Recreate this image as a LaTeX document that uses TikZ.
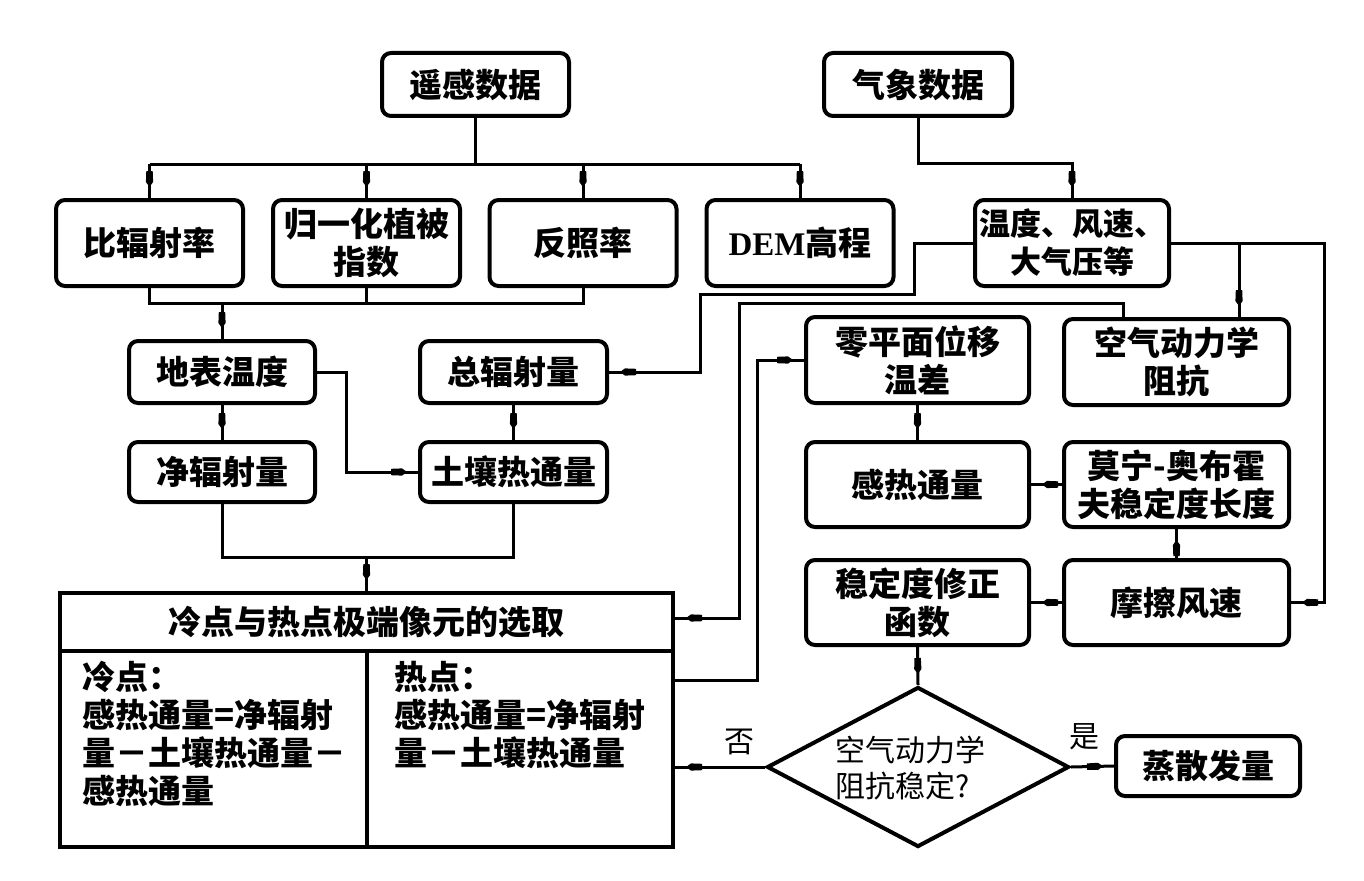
\documentclass[tikz,border=0pt]{standalone}
\usepackage{fontspec}
\setmainfont{Noto Sans CJK SC}
\newfontfamily\demf{Liberation Serif}
\usetikzlibrary{arrows.meta,decorations.markings,shapes.geometric,calc}
\newcommand\myfs{\fontsize{33pt}{38pt}\selectfont\bfseries}
\newcommand\wxfs{\fontsize{31pt}{38pt}\selectfont\bfseries}
\newcommand\lblfs{\fontsize{30pt}{36pt}\selectfont}
\begin{document}
\begin{tikzpicture}[x=1pt,y=-1pt,
  box/.style={draw, line width=4pt, rounded corners=9pt, inner sep=0pt, align=center, font=\myfs},
  conn/.style={line width=3pt},
  arr/.style={conn, postaction={decorate}, decoration={markings, mark=at position -11pt with {\fill (-16pt,-3.2pt) -- (-5pt,-3.6pt) -- (0pt,0pt) -- (-5pt,3.6pt) -- (-16pt,3.2pt) -- cycle;}}},
  lbl/.style={inner sep=0pt, font=\myfs},
  yn/.style={inner sep=0pt, font=\lblfs}
]
\useasboundingbox (0,0) rectangle (1364,880);
% row 1
\node[box, minimum width=187pt, minimum height=63pt] (rs) at (475.5,84.5) {遥感数据};
\node[box, minimum width=188pt, minimum height=63pt] (met) at (918,84.5) {气象数据};
% row 2
\node[box, minimum width=187pt, minimum height=86pt] (bfs) at (149.5,243) {比辐射率};
\node[box, minimum width=187pt, minimum height=86pt] (ndvi) at (366.5,243) {归一化植被\\指数};
\node[box, minimum width=187pt, minimum height=86pt] (alb) at (583,243) {反照率};
\node[box, minimum width=187pt, minimum height=86pt] (dem) at (800,243) {{\demf\bfseries DEM}高程};
\node[box, minimum width=194pt, minimum height=86pt, font=\wxfs] (wx) at (1072,243) {温度、风速、\\大气压等};
% row 3/4 left
\node[box, minimum width=186pt, minimum height=62pt] (lst) at (222,372) {地表温度};
\node[box, minimum width=186pt, minimum height=60pt] (rn) at (222,472) {净辐射量};
\node[box, minimum width=187pt, minimum height=62pt] (tot) at (513.5,372) {总辐射量};
\node[box, minimum width=187pt, minimum height=60pt] (g) at (513.5,472) {土壤热通量};
% right column
\node[box, minimum width=223pt, minimum height=86pt] (zpd) at (917.5,360) {零平面位移\\温差};
\node[box, minimum width=225pt, minimum height=86pt] (ra) at (1176.5,362) {空气动力学\\阻抗};
\node[box, minimum width=223pt, minimum height=85pt] (H) at (917.5,484.5) {感热通量};
\node[box, minimum width=225pt, minimum height=85pt] (L) at (1176.5,484.5) {莫宁-奥布霍\\夫稳定度长度};
\node[box, minimum width=223pt, minimum height=85pt] (psi) at (917.5,602.5) {稳定度修正\\函数};
\node[box, minimum width=225pt, minimum height=85pt] (ustar) at (1176.5,602.5) {摩擦风速};
\node[draw, diamond, line width=4pt, inner sep=0pt, minimum width=302pt, minimum height=160pt] (dia) at (918,767) {};
\node[inner sep=0pt, align=left, font=\lblfs] (diat) at (910,768) {空气动力学\\阻抗稳定?};
\node[box, minimum width=184pt, minimum height=60pt] (et) at (1208,766) {蒸散发量};
% big box
\node[draw, line width=4pt, inner sep=0pt, minimum width=613pt, minimum height=254pt] (big) at (366.5,720) {};
\coordinate (t1) at (0,651);
\draw[line width=4pt] (big.west |- t1) -- (big.east |- t1);
\draw[line width=4pt] (big.south |- t1) -- (big.south);
\node[lbl] (title) at (366.5,622) {冷点与热点极端像元的选取};
\node[lbl, anchor=north west, align=left] (cold) at (82,661) {冷点：\\感热通量=净辐射\\量－土壤热通量－\\感热通量};
\node[lbl, anchor=north west, align=left] (hot) at (394,661) {热点：\\感热通量=净辐射\\量－土壤热通量};
% labels
\node[yn] (no) at (739,742) {否};
\node[yn] (yes) at (1084,737) {是};
% connectors
\coordinate (bus) at (0,164);
\draw[conn] (rs.south) -- (rs.south |- bus);
\draw[conn] (bfs.north |- bus) -- (dem.north |- bus);
\foreach \n in {bfs,ndvi,alb,dem} \draw[arr] (\n.north |- bus) -- (\n.north);
\coordinate (mb) at (0,163);
\draw[arr] (met.south) |- (wx.north |- mb) -- (wx.north);
\coordinate (b2) at (0,303);
\draw[conn] (bfs.south) -- (bfs.south |- b2) -- (alb.south |- b2) -- (alb.south);
\draw[conn] (ndvi.south) -- (ndvi.south |- b2);
\draw[arr] (lst.north |- b2) -- (lst.north);
\draw[arr] (lst.south) -- (rn.north);
\coordinate (c1) at (346,472);
\draw[arr] (lst.east) -| (c1) -- (g.west);
\draw[arr] (tot.south) -- (g.north);
\coordinate (k1) at (914,294);
\coordinate (k2) at (700,372);
\draw[arr] (wx.west) -| (k1) -| (k2) -- (tot.east);
\coordinate (k3) at (1324,602.5);
\draw[arr] (wx.east) -| (k3) -- (ustar.east);
\coordinate (br) at (1239,243);
\draw[arr] (br) -- (br |- ra.north);
\coordinate (k5) at (1123,303);
\coordinate (k6) at (739,618);
\draw[arr] (k5 |- ra.north) -- (k5) -| (k6) -- (k6 -| big.east);
\coordinate (k7) at (757,680);
\draw[arr] (k7 -| big.east) -- (k7) |- (zpd.west);
\draw[arr] (zpd.south) -- (H.north);
\draw[arr] (L.west) -- (H.east);
\draw[arr] (ustar.north) -- (L.south);
\draw[arr] (ustar.west) -- (psi.east);
\draw[arr] (psi.south) -- (dia.north);
\draw[arr] (dia.west) -- (dia.west -| big.east);
\draw[arr] (dia.east) -- (et.west);
\coordinate (b3) at (0,557);
\draw[conn] (rn.south) -- (rn.south |- b3) -- (g.south |- b3) -- (g.south);
\draw[arr] (big.north |- b3) -- (big.north);
\end{tikzpicture}
\end{document}
